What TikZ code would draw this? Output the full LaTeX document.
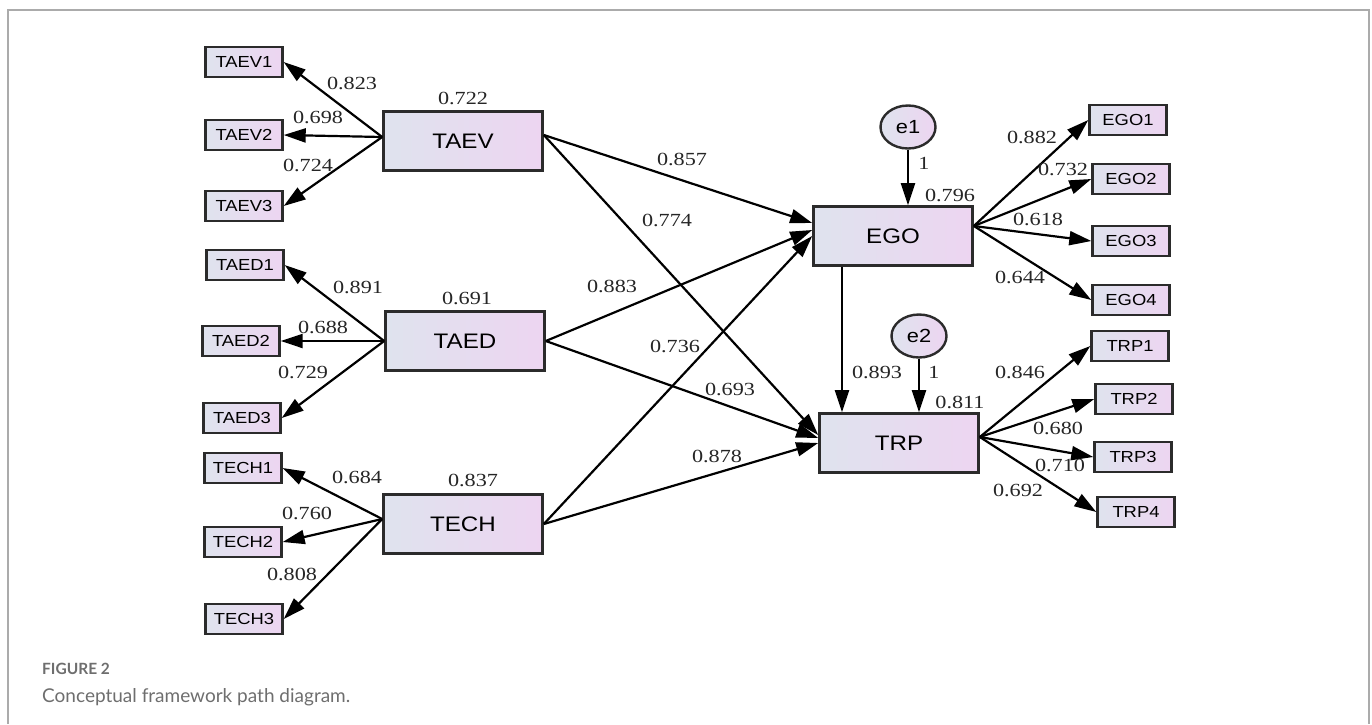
\documentclass[tikz,border=0pt]{standalone}
\usepackage{fontspec}
\setmainfont{Liberation Serif}
\newfontfamily\numFont[FakeStretch=1.2]{Liberation Serif}
\newfontfamily\boxFont[FakeStretch=1.15]{Liberation Sans}
\newfontfamily\captionFont{Lato}
\usepackage{tikz}
\usetikzlibrary{positioning}
\usetikzlibrary{calc}
\usetikzlibrary{arrows.meta}
\usetikzlibrary{shapes.geometric}

\definecolor{boxLeft}{HTML}{DFE3EE}
\definecolor{boxRight}{HTML}{EDD5F1}
\definecolor{boxBorder}{HTML}{2B2B2B}
\definecolor{frameGray}{HTML}{ABABAB}
\definecolor{captionGray}{HTML}{6E6E6E}

\tikzset{
	latent/.style={
		draw=boxBorder,
		line width=2.6pt,
		left color=boxLeft,
		right color=boxRight,
		minimum width=159pt,
		minimum height=59pt,
		font=\boxFont\fontsize{21}{23}\selectfont
	},
	indicator/.style={
		draw=boxBorder,
		line width=2.4pt,
		left color=boxLeft,
		right color=boxRight,
		minimum width=77pt,
		minimum height=30pt,
		font=\boxFont\fontsize{16}{18}\selectfont
	},
	errorTerm/.style={
		ellipse,
		draw=boxBorder,
		line width=2.4pt,
		left color=boxLeft,
		right color=boxRight,
		minimum width=55pt,
		minimum height=43pt,
		font=\boxFont\fontsize{19}{20}\selectfont
	},
	coef/.style={
		inner sep=0pt,
		text=black!85,
		font=\numFont\fontsize{18.5}{20}\selectfont
	},
	arrowLine/.style={
		-{Triangle[length=22pt,width=14pt]},
		line width=2.2pt
	}
}

\begin{document}
\begin{tikzpicture}[x=1pt, y=-1pt]

	\useasboundingbox (0,0) rectangle (1372,724);

	% frame
	\draw[frameGray, line width=2pt] (8,724) -- (8,10) -- (1369,10) -- (1369,724);

	% latent variables
	\node[latent] (taev) at (463,141) {TAEV};
	\node[latent] (taed) at (465,341) {TAED};
	\node[latent] (tech) at (463,524) {TECH};
	\node[latent] (ego) at (893,236) {EGO};
	\node[latent] (trp) at (899,443) {TRP};

	% error terms
	\node[errorTerm] (eOne) at (908,127) {e1};
	\node[errorTerm] (eTwo) at (919,336) {e2};

	% indicators
	\node[indicator] (taevOne) at (244,62) {TAEV1};
	\node[indicator] (taevTwo) at (244,135) {TAEV2};
	\node[indicator] (taevThree) at (244,206) {TAEV3};
	\node[indicator] (taedOne) at (245,265) {TAED1};
	\node[indicator] (taedTwo) at (241,341) {TAED2};
	\node[indicator] (taedThree) at (242,418) {TAED3};
	\node[indicator] (techOne) at (243,468) {TECH1};
	\node[indicator] (techTwo) at (243,542) {TECH2};
	\node[indicator] (techThree) at (244,619) {TECH3};
	\node[indicator] (egoOne) at (1128,120) {EGO1};
	\node[indicator] (egoTwo) at (1131,179) {EGO2};
	\node[indicator] (egoThree) at (1131,241) {EGO3};
	\node[indicator] (egoFour) at (1131,300) {EGO4};
	\node[indicator] (trpOne) at (1130,346) {TRP1};
	\node[indicator] (trpTwo) at (1134,399) {TRP2};
	\node[indicator] (trpThree) at (1133,457) {TRP3};
	\node[indicator] (trpFour) at (1136,512) {TRP4};

	% loadings
	\draw[arrowLine] ([yshift=4pt]taev.west) -- (taevOne.east);
	\draw[arrowLine] ([yshift=4pt]taev.west) -- (taevTwo.east);
	\draw[arrowLine] ([yshift=4pt]taev.west) -- (taevThree.east);
	\draw[arrowLine] (taed.west) -- (taedOne.east);
	\draw[arrowLine] (taed.west) -- (taedTwo.east);
	\draw[arrowLine] (taed.west) -- (taedThree.east);
	\draw[arrowLine] ([yshift=5pt]tech.west) -- (techOne.east);
	\draw[arrowLine] ([yshift=5pt]tech.west) -- (techTwo.east);
	\draw[arrowLine] ([yshift=5pt]tech.west) -- (techThree.east);
	\draw[arrowLine] ([yshift=10pt]ego.east) -- (egoOne.west);
	\draw[arrowLine] ([yshift=10pt]ego.east) -- (egoTwo.west);
	\draw[arrowLine] ([yshift=10pt]ego.east) -- (egoThree.west);
	\draw[arrowLine] ([yshift=10pt]ego.east) -- (egoFour.west);
	\draw[arrowLine] ([yshift=6pt]trp.east) -- (trpOne.west);
	\draw[arrowLine] ([yshift=6pt]trp.east) -- (trpTwo.west);
	\draw[arrowLine] ([yshift=6pt]trp.east) -- (trpThree.west);
	\draw[arrowLine] ([yshift=6pt]trp.east) -- (trpFour.west);

	% structural paths
	\draw[arrowLine] ([yshift=6pt]taev.east) -- ([yshift=13pt]ego.west);
	\draw[arrowLine] ([yshift=6pt]taev.east) -- ([yshift=8pt]trp.west);
	\draw[arrowLine] (taed.east) -- ([yshift=6pt]ego.west);
	\draw[arrowLine] (taed.east) -- ([yshift=5pt]trp.west);
	\draw[arrowLine] (tech.east) -- ([yshift=0pt]ego.west);
	\draw[arrowLine] (tech.east) -- ([yshift=0pt]trp.west);
	\draw[arrowLine] ([xshift=-51pt]ego.south) -- ([xshift=-57pt]trp.north);
	\draw[arrowLine] (eOne.south) -- (ego.north -| eOne.south);
	\draw[arrowLine] (eTwo.south) -- (trp.north -| eTwo.south);

	% coefficients
	\node[coef] (lTaevOne) at (352,83) {0.823};
	\node[coef] (lTaevTwo) at (318,117) {0.698};
	\node[coef] (lTaevThree) at (308,165) {0.724};
	\node[coef] (rTaev) at (463,98) {0.722};
	\node[coef] (lTaedOne) at (358,287) {0.891};
	\node[coef] (lTaedTwo) at (323,327) {0.688};
	\node[coef] (lTaedThree) at (303,372) {0.729};
	\node[coef] (rTaed) at (467,298) {0.691};
	\node[coef] (lTechOne) at (357,477) {0.684};
	\node[coef] (lTechTwo) at (307,513) {0.760};
	\node[coef] (lTechThree) at (292,574) {0.808};
	\node[coef] (rTech) at (473,480) {0.837};
	\node[coef] (pTaevEgo) at (682,159) {0.857};
	\node[coef] (pTaevTrp) at (667,220) {0.774};
	\node[coef] (pTaedEgo) at (612,286) {0.883};
	\node[coef] (pTechEgo) at (675,346) {0.736};
	\node[coef] (pTaedTrp) at (730,389) {0.693};
	\node[coef] (pTechTrp) at (717,456) {0.878};
	\node[coef] (pEgoTrp) at (877,372) {0.893};
	\node[coef] (fixOne) at (924,163) {1};
	\node[coef] (fixTwo) at (934,372) {1};
	\node[coef] (rEgo) at (950,195) {0.796};
	\node[coef] (rTrp) at (960,402) {0.811};
	\node[coef] (lEgoOne) at (1032,137) {0.882};
	\node[coef] (lEgoTwo) at (1063,169) {0.732};
	\node[coef] (lEgoThree) at (1038,219) {0.618};
	\node[coef] (lEgoFour) at (1020,277) {0.644};
	\node[coef] (lTrpOne) at (1020,372) {0.846};
	\node[coef] (lTrpTwo) at (1058,428) {0.680};
	\node[coef] (lTrpThree) at (1060,465) {0.710};
	\node[coef] (lTrpFour) at (1018,490) {0.692};

	% caption
	\node[
		anchor=west,
		inner sep=0pt,
		text=captionGray,
		font=\captionFont\bfseries\fontsize{15.5}{17}\selectfont
	] (figureTag) at (42,669) {FIGURE 2};
	\node[
		anchor=west,
		inner sep=0pt,
		text=captionGray,
		font=\captionFont\fontsize{19}{21}\selectfont
	] (figureCaption) at (42,697) {Conceptual framework path diagram.};

\end{tikzpicture}
\end{document}
